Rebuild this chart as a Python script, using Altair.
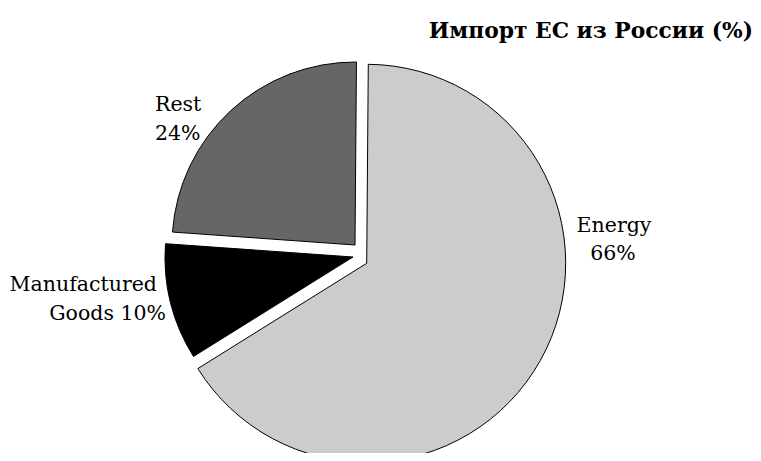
import altair as alt
import pandas as pd

categories = ["Energy", "Manufactured Goods", "Rest"]
values = [66, 10, 24]
order = [0, 1, 2]
title_text = "Импорт ЕС из России (%)"

df = pd.DataFrame({"category": categories, "value": values, "order": order})

START = 0.008  # radians, rotation of first slice

base = (
    alt.Chart(df)
    .transform_window(cum="sum(value)", frame=[None, 0], sort=[alt.SortField("order")])
    .transform_joinaggregate(total="sum(value)")
    .transform_calculate(
        t0=f"(datum.cum - datum.value) / datum.total * 2 * PI + {START}",
        t1=f"datum.cum / datum.total * 2 * PI + {START}",
        pct="format(datum.value, 'd') + '%'",
    )
)

# per-slice exploded centre, radius and fill (style)
slice_style = {
    "Energy": (358.7, 255.3, 199, "#cccccc"),
    "Manufactured Goods": (345, 249, 188, "#000000"),
    "Rest": (347, 237, 183, "#666666"),
}

layers = []
for cat in categories:
    cx, cy, r, col = slice_style[cat]
    layers.append(
        base.transform_filter(alt.datum.category == cat)
        .mark_arc(radius=r, fill=col, stroke="black", strokeWidth=1)
        .encode(
            theta=alt.Theta("t0:Q", scale=None),
            theta2="t1:Q",
            x=alt.value(cx),
            y=alt.value(cy),
        )
    )

FONT = "DejaVu Serif"


def label(expr, cat, x, y, align):
    return (
        base.transform_filter(alt.datum.category == cat)
        .transform_calculate(lab=expr)
        .mark_text(font=FONT, fontSize=20.5, align=align, baseline="alphabetic", color="black")
        .encode(text="lab:N", x=alt.value(x), y=alt.value(y))
    )


layers += [
    label("datum.category", "Energy", 606, 223.7, "center"),
    label("datum.pct", "Energy", 605, 252, "center"),
    label("datum.category", "Rest", 147, 102.7, "left"),
    label("datum.pct", "Rest", 147, 132, "left"),
    label("split(datum.category, ' ')[0]", "Manufactured Goods", 149, 283, "right"),
    label("split(datum.category, ' ')[1] + ' ' + datum.pct", "Manufactured Goods", 158, 312, "right"),
]

title_layer = (
    alt.Chart(pd.DataFrame({"t": [title_text]}))
    .mark_text(font=FONT, fontSize=21.8, fontWeight="bold", align="right", baseline="alphabetic", color="black")
    .encode(text="t:N", x=alt.value(745), y=alt.value(30.3))
)
layers.append(title_layer)

chart = (
    alt.layer(*layers)
    .properties(width=745, height=445, autosize=alt.AutoSizeParams(type="none"), padding=0)
    .configure_view(stroke=None)
)

chart.save("out.html", embed_options={"renderer": "svg", "actions": False})
